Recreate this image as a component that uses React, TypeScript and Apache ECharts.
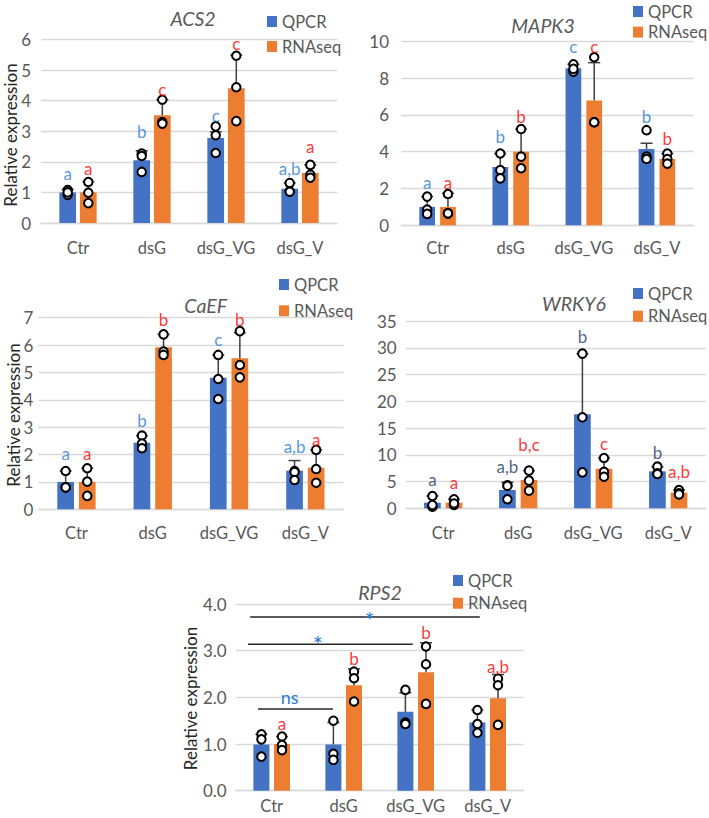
import React, { useEffect, useRef } from 'react';
import * as echarts from 'echarts';

const categories = ['Ctr', 'dsG', 'dsG_VG', 'dsG_V'];

// ACS2
const acs2QMean = [1.0, 2.05, 2.78, 1.12];
const acs2QTop = [1.1, 2.36, 2.98, 1.31];
const acs2QPts = [[1.08, 0.92, 1.0], [2.27, 2.19, 1.67], [3.16, 2.87, 2.29], [1.31, 1.04, 1.02]];
const acs2RMean = [1.0, 3.52, 4.41, 1.64];
const acs2RTop = [1.35, 4.03, 5.49, 1.9];
const acs2RPts = [[1.34, 0.99, 0.65], [4.03, 3.3, 3.25], [5.47, 4.44, 3.33], [1.9, 1.58, 1.48]];
const acs2QLetters = ['a', 'b', 'c', 'a,b'];
const acs2QLetterY = [1.61, 3.0, 3.52, 1.78];
const acs2RLetters = ['a', 'c', 'c', 'a'];
const acs2RLetterY = [1.78, 4.36, 5.87, 2.49];

// MAPK3
const mapkQMean = [1.0, 3.17, 8.53, 4.15];
const mapkQTop = [1.56, 3.9, 8.75, 4.46];
const mapkQPts = [[1.56, 0.85, 0.62], [3.9, 3.0, 2.55], [8.75, 8.35, 8.5], [5.17, 3.73, 3.6]];
const mapkRMean = [1.0, 4.0, 6.78, 3.6];
const mapkRTop = [1.74, 5.23, 8.84, 3.9];
const mapkRPts = [[1.7, 0.65, 0.65], [5.23, 3.73, 3.1], [9.13, 5.6, 5.6], [3.9, 3.6, 3.35]];
const mapkQLetters = ['a', 'b', 'c', 'b'];
const mapkQLetterY = [2.32, 4.82, 9.71, 5.93];
const mapkRLetters = ['a', 'b', 'c', 'b'];
const mapkRLetterY = [2.32, 5.9, 9.71, 4.73];

// CaEF
const caefQMean = [1.0, 2.43, 4.81, 1.41];
const caefQTop = [1.4, 2.69, 5.64, 1.78];
const caefQPts = [[1.4, 0.8, 0.8], [2.69, 2.4, 2.23], [5.64, 4.76, 4.03], [1.4, 1.36, 1.07]];
const caefRMean = [1.0, 5.92, 5.52, 1.52];
const caefRTop = [1.5, 6.39, 6.45, 2.17];
const caefRPts = [[1.5, 1.01, 0.49], [6.39, 5.76, 5.64], [6.51, 5.27, 4.82], [2.17, 1.47, 0.97]];
const caefQLetters = ['a', 'b', 'c', 'a,b'];
const caefQLetterY = [2.05, 3.24, 6.22, 2.29];
const caefRLetters = ['a', 'b', 'b', 'a'];
const caefRLetterY = [2.05, 6.94, 6.94, 2.56];

// WRKY6
const wrkyQMean = [1.06, 3.42, 17.56, 6.91];
const wrkyQTop = [2.3, 4.86, 28.9, 7.78];
const wrkyQPts = [[2.3, 0.3, 0.6], [4.3, 4.2, 1.7], [28.9, 17.0, 6.72], [7.78, 6.54, 6.4]];
const wrkyRMean = [1.06, 5.29, 7.41, 2.93];
const wrkyRTop = [1.68, 7.04, 9.4, 3.42];
const wrkyRPts = [[1.68, 0.62, 0.9], [7.04, 5.17, 3.3], [9.4, 6.8, 5.9], [3.42, 2.8, 2.6]];
const wrkyQLetters = ['a', 'a,b', 'b', 'b'];
const wrkyQLetterY = [5.29, 7.78, 32.07, 10.4];
const wrkyRLetters = ['a', 'b,c', 'c', 'a,b'];
const wrkyRLetterY = [4.8, 11.95, 12.14, 6.85];

// RPS2
const rpsQMean = [0.99, 0.99, 1.69, 1.46];
const rpsQTop = [1.21, 1.46, 2.1, 1.73];
const rpsQPts = [[1.21, 1.1, 0.73], [1.5, 0.79, 0.66], [2.16, 1.46, 1.43], [1.73, 1.43, 1.24]];
const rpsRMean = [1.0, 2.26, 2.54, 1.98];
const rpsRTop = [1.16, 2.61, 3.17, 2.49];
const rpsRPts = [[1.16, 0.98, 0.87], [2.55, 2.41, 1.91], [3.09, 2.71, 1.86], [2.4, 2.26, 1.41]];
const rpsQLetters: string[] = [];
const rpsQLetterY: number[] = [];
const rpsRLetters = ['a', 'b', 'b', 'a,b'];
const rpsRLetterY = [1.44, 2.84, 3.39, 2.66];

// RPS2 significance brackets (x in category units from Ctr centre)
const sigFrom = [-0.19, -0.33, -0.3];
const sigTo = [0.85, 1.96, 2.89];
const sigY = [1.75, 3.14, 3.72];
const sigText = ['ns', '*', '*'];
const sigTextX = [0.25, 0.64, 1.36];
const sigTextY = [2.01, 3.34, 3.87];

const FONT = 'Lato, "Liberation Sans", Arial, sans-serif';
const GRAY = '#595959';
const GRID_COLOR = '#d9d9d9';
const BLUE = '#4472C4';
const ORANGE = '#ED7D31';
const LETTER_BLUE = '#2A7AD2';
const LETTER_NAVY = '#203864';
const RED = '#FF0000';

type Panel = {
  title: string;
  grid: { left: number; top: number; width: number; height: number };
  max: number;
  interval: number;
  decimals: number;
  barW: number;
  off: number;
  xMargin: number;
  yMargin: number;
  titlePos: [number, number];
  legend: { left: number; top: number; gap: number };
  yName?: [number, number];
  qMean: number[]; qTop: number[]; qPts: number[][];
  rMean: number[]; rTop: number[]; rPts: number[][];
  qLetters: string[]; qLetterY: number[];
  rLetters: string[]; rLetterY: number[];
  qLetterColor: string;
};

const panels: Panel[] = [
  {
    title: 'ACS2', grid: { left: 41, top: 39.5, width: 296, height: 183.5 }, max: 6, interval: 1, decimals: 0,
    barW: 16.7, off: 10.3, xMargin: 16, yMargin: 10, titlePos: [193, 18],
    legend: { left: 267, top: 13, gap: 8 }, yName: [10, 135],
    qMean: acs2QMean, qTop: acs2QTop, qPts: acs2QPts, rMean: acs2RMean, rTop: acs2RTop, rPts: acs2RPts,
    qLetters: acs2QLetters, qLetterY: acs2QLetterY, rLetters: acs2RLetters, rLetterY: acs2RLetterY,
    qLetterColor: LETTER_BLUE,
  },
  {
    title: 'MAPK3', grid: { left: 401, top: 41.3, width: 292.5, height: 184 }, max: 10, interval: 2, decimals: 0,
    barW: 15.7, off: 10.4, xMargin: 14, yMargin: 12, titlePos: [543, 25],
    legend: { left: 633, top: 3, gap: 3.6 },
    qMean: mapkQMean, qTop: mapkQTop, qPts: mapkQPts, rMean: mapkRMean, rTop: mapkRTop, rPts: mapkRPts,
    qLetters: mapkQLetters, qLetterY: mapkQLetterY, rLetters: mapkRLetters, rLetterY: mapkRLetterY,
    qLetterColor: LETTER_BLUE,
  },
  {
    title: 'CaEF', grid: { left: 38.3, top: 317.7, width: 305.2, height: 191.6 }, max: 7, interval: 1, decimals: 0,
    barW: 16.7, off: 10.8, xMargin: 15, yMargin: 5, titlePos: [205.7, 305],
    legend: { left: 279, top: 276, gap: 9.3 }, yName: [13, 415],
    qMean: caefQMean, qTop: caefQTop, qPts: caefQPts, rMean: caefRMean, rTop: caefRTop, rPts: caefRPts,
    qLetters: caefQLetters, qLetterY: caefQLetterY, rLetters: caefRLetters, rLetterY: caefRLetterY,
    qLetterColor: LETTER_BLUE,
  },
  {
    title: 'WRKY6', grid: { left: 405.7, top: 321, width: 300, height: 187.3 }, max: 35, interval: 5, decimals: 0,
    barW: 16.7, off: 10.8, xMargin: 16, yMargin: 9, titlePos: [574, 303.3],
    legend: { left: 633, top: 285, gap: 5.7 },
    qMean: wrkyQMean, qTop: wrkyQTop, qPts: wrkyQPts, rMean: wrkyRMean, rTop: wrkyRTop, rPts: wrkyRPts,
    qLetters: wrkyQLetters, qLetterY: wrkyQLetterY, rLetters: wrkyRLetters, rLetterY: wrkyRLetterY,
    qLetterColor: LETTER_NAVY,
  },
  {
    title: 'RPS2', grid: { left: 235.7, top: 604, width: 288, height: 186.7 }, max: 4, interval: 1, decimals: 1,
    barW: 16, off: 10.3, xMargin: 7, yMargin: 9, titlePos: [380, 592.5],
    legend: { left: 453, top: 572, gap: 5.7 }, yName: [190, 698.5],
    qMean: rpsQMean, qTop: rpsQTop, qPts: rpsQPts, rMean: rpsRMean, rTop: rpsRTop, rPts: rpsRPts,
    qLetters: rpsQLetters, qLetterY: rpsQLetterY, rLetters: rpsRLetters, rLetterY: rpsRLetterY,
    qLetterColor: LETTER_BLUE,
  },
];

function errorSeries(i: number, mean: number[], top: number[], dx: number) {
  return {
    type: 'custom',
    xAxisIndex: i,
    yAxisIndex: i,
    silent: true,
    z: 3,
    data: mean.map((m, k) => [k, m, top[k]]),
    renderItem: (_p: any, api: any) => {
      const cat = api.value(0);
      const p0 = api.coord([cat, api.value(1)]);
      const p1 = api.coord([cat, api.value(2)]);
      const x = p0[0] + dx;
      const style = { stroke: '#404040', lineWidth: 1.5 };
      return {
        type: 'group',
        children: [
          { type: 'line', shape: { x1: x, y1: p0[1], x2: x, y2: p1[1] }, style },
          { type: 'line', shape: { x1: x - 6, y1: p1[1], x2: x + 6, y2: p1[1] }, style },
        ],
      };
    },
  };
}

function pointSeries(i: number, pts: number[][], dx: number) {
  const data: number[][] = [];
  pts.forEach((arr, k) => arr.forEach((v) => data.push([k, v])));
  return {
    type: 'scatter',
    xAxisIndex: i,
    yAxisIndex: i,
    silent: true,
    z: 4,
    symbol: 'circle',
    symbolSize: 8.5,
    symbolOffset: [dx, 0],
    itemStyle: { color: '#ffffff', borderColor: '#000000', borderWidth: 2, opacity: 1 },
    data,
  };
}

function letterSeries(i: number, letters: string[], ys: number[], dx: number, color: string) {
  return {
    type: 'scatter',
    xAxisIndex: i,
    yAxisIndex: i,
    silent: true,
    z: 5,
    symbol: 'circle',
    symbolSize: 1,
    itemStyle: { color: 'rgba(0,0,0,0)' },
    label: {
      show: true,
      position: 'inside',
      offset: [dx, 0],
      formatter: '{b}',
      color,
      fontSize: 17,
      fontFamily: FONT,
    },
    data: letters.map((t, k) => ({ name: t, value: [k, ys[k]] })),
  };
}

function buildOption() {
  const grid: any[] = [];
  const xAxis: any[] = [];
  const yAxis: any[] = [];
  const series: any[] = [];
  const legend: any[] = [];
  const graphic: any[] = [];

  panels.forEach((p, i) => {
    grid.push({ ...p.grid, containLabel: false });
    xAxis.push({
      type: 'category',
      gridIndex: i,
      data: categories,
      axisTick: { show: false },
      axisLine: { lineStyle: { color: GRID_COLOR, width: 1.3 } },
      axisLabel: { fontSize: 16.5, color: GRAY, margin: p.xMargin, fontFamily: FONT, interval: 0 },
    });
    yAxis.push({
      type: 'value',
      gridIndex: i,
      min: 0,
      max: p.max,
      interval: p.interval,
      axisLine: { show: false },
      axisTick: { show: false },
      axisLabel: {
        fontSize: 17,
        color: GRAY,
        margin: p.yMargin,
        fontFamily: FONT,
        formatter: (v: number) => v.toFixed(p.decimals),
      },
      splitLine: { lineStyle: { color: GRID_COLOR, width: 1.3 } },
    });
    const gapPct = (((2 * p.off - p.barW) / p.barW) * 100).toFixed(1) + '%';
    series.push({
      type: 'bar', name: 'QPCR', xAxisIndex: i, yAxisIndex: i, data: p.qMean,
      barWidth: p.barW, barGap: gapPct, itemStyle: { color: BLUE }, z: 2, silent: true,
    });
    series.push({
      type: 'bar', name: 'RNAseq', xAxisIndex: i, yAxisIndex: i, data: p.rMean,
      barWidth: p.barW, barGap: gapPct, itemStyle: { color: ORANGE }, z: 2, silent: true,
    });
    series.push(errorSeries(i, p.qMean, p.qTop, -p.off));
    series.push(errorSeries(i, p.rMean, p.rTop, p.off));
    series.push(pointSeries(i, p.qPts, -p.off));
    series.push(pointSeries(i, p.rPts, p.off));
    if (p.qLetters.length) series.push(letterSeries(i, p.qLetters, p.qLetterY, -p.off, p.qLetterColor));
    if (p.rLetters.length) series.push(letterSeries(i, p.rLetters, p.rLetterY, p.off, RED));

    legend.push({
      data: ['QPCR', 'RNAseq'],
      left: p.legend.left,
      top: p.legend.top,
      orient: 'vertical',
      icon: 'rect',
      itemWidth: 10,
      itemHeight: 11,
      itemGap: p.legend.gap,
      padding: 0,
      selectedMode: false,
      textStyle: { fontSize: 16.5, color: GRAY, fontFamily: FONT, lineHeight: 16 },
    });

    graphic.push({
      type: 'text',
      x: p.titlePos[0],
      y: p.titlePos[1],
      silent: true,
      style: {
        text: p.title,
        align: 'center',
        verticalAlign: 'middle',
        fontStyle: 'italic',
        fontSize: 19.5,
        fontFamily: FONT,
        fill: GRAY,
      },
    });
    if (p.yName) {
      graphic.push({
        type: 'text',
        x: p.yName[0],
        y: p.yName[1],
        rotation: Math.PI / 2,
        silent: true,
        style: {
          text: 'Relative expression',
          align: 'center',
          verticalAlign: 'middle',
          fontSize: 17,
          fontFamily: FONT,
          fill: '#262626',
        },
      });
    }
  });

  // significance brackets on RPS2 panel
  const sp = 4;
  series.push({
    type: 'custom',
    xAxisIndex: sp,
    yAxisIndex: sp,
    silent: true,
    z: 6,
    data: sigY.map((y, k) => [0, y, sigFrom[k], sigTo[k], sigTextX[k], sigTextY[k], k]),
    renderItem: (_p: any, api: any) => {
      const base = api.coord([0, api.value(1)]);
      const w = api.size([1, 0])[0];
      const x1 = base[0] + api.value(2) * w;
      const x2 = base[0] + api.value(3) * w;
      const tp = api.coord([0, api.value(5)]);
      const tx = base[0] + api.value(4) * w;
      const k = api.value(6);
      const txt = sigText[k];
      const star = txt === '*';
      return {
        type: 'group',
        children: [
          { type: 'line', shape: { x1, y1: base[1], x2, y2: base[1] }, style: { stroke: '#262626', lineWidth: 1.5 } },
          {
            type: 'text',
            x: tx,
            y: tp[1] + (star ? -3 : 0),
            style: {
              text: txt,
              align: 'center',
              verticalAlign: star ? 'top' : 'middle',
              fontSize: star ? 24 : 18,
              fontFamily: FONT,
              fill: LETTER_BLUE,
            },
          },
        ],
      };
    },
  });

  return {
    animation: false,
    backgroundColor: '#ffffff',
    textStyle: { fontFamily: FONT },
    grid,
    xAxis,
    yAxis,
    series,
    legend,
    graphic,
  };
}

export default function App() {
  const ref = useRef<HTMLDivElement>(null);
  useEffect(() => {
    if (!ref.current) return;
    const chart = echarts.init(ref.current, null, { renderer: 'svg' });
    chart.setOption(buildOption() as any);
    return () => chart.dispose();
  }, []);
  return (
    <div
      ref={ref}
      style={{ position: 'absolute', left: 0, top: 0, width: 709, height: 818, background: '#fff' }}
    />
  );
}
